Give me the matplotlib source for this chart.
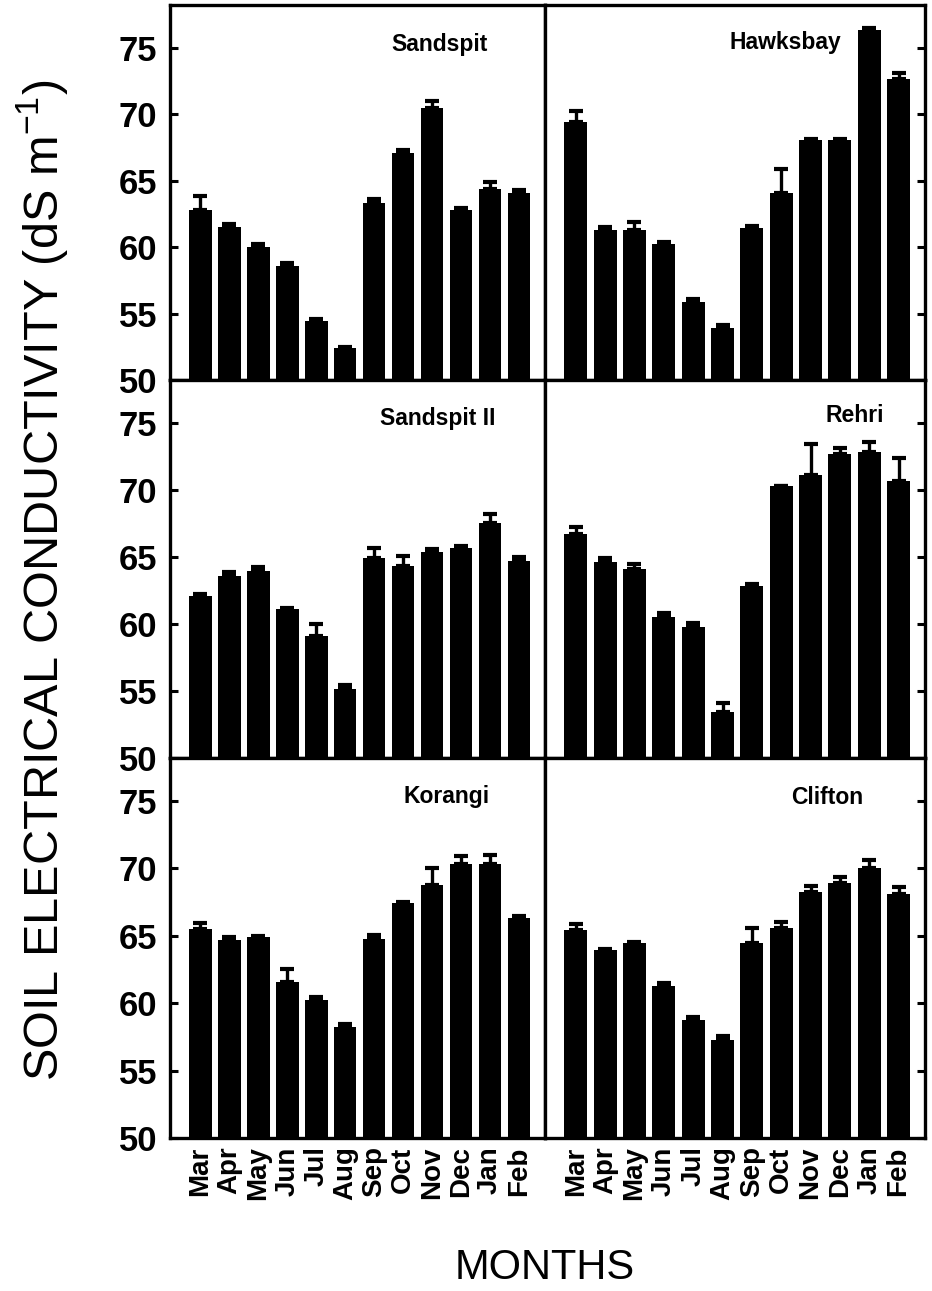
import matplotlib
matplotlib.use('Agg')
from matplotlib import pyplot as plt
import numpy as np

plt.rcParams['font.family'] = ['Liberation Sans', 'DejaVu Sans']
plt.rcParams['mathtext.fontset'] = 'custom'
plt.rcParams['mathtext.rm'] = 'Liberation Sans'

#### D A T A ####

months = ['Mar', 'Apr', 'May', 'Jun', 'Jul', 'Aug', 'Sep', 'Oct', 'Nov', 'Dec', 'Jan', 'Feb']
sites = ['Sandspit', 'Hawksbay', 'Sandspit II', 'Rehri', 'Korangi', 'Clifton']

sandspit = [62.75, 61.5, 60.0, 58.6, 54.4, 52.4, 63.3, 67.1, 70.45, 62.8, 64.4, 64.1]
sandspit_err = [1.1, 0.2, 0.2, 0.2, 0.2, 0.1, 0.3, 0.2, 0.5, 0.1, 0.5, 0.2]

hawksbay = [69.4, 61.3, 61.3, 60.2, 55.9, 53.9, 61.4, 64.1, 68.05, 68.05, 76.3, 72.6]
hawksbay_err = [0.8, 0.2, 0.6, 0.2, 0.2, 0.2, 0.2, 1.8, 0.1, 0.1, 0.2, 0.5]

sandspit2 = [62.05, 63.6, 63.95, 61.1, 59.1, 55.15, 64.9, 64.3, 65.4, 65.7, 67.5, 64.7]
sandspit2_err = [0.2, 0.3, 0.3, 0.1, 0.9, 0.3, 0.8, 0.8, 0.2, 0.1, 0.7, 0.3]

rehri = [66.7, 64.6, 64.1, 60.55, 59.8, 53.4, 62.8, 70.3, 71.1, 72.7, 72.8, 70.7]
rehri_err = [0.5, 0.3, 0.4, 0.3, 0.3, 0.7, 0.2, 0.0, 2.3, 0.4, 0.8, 1.7]

korangi = [65.5, 64.7, 64.9, 61.55, 60.25, 58.25, 64.8, 67.45, 68.75, 70.3, 70.35, 66.3]
korangi_err = [0.45, 0.2, 0.1, 1.0, 0.2, 0.2, 0.3, 0.1, 1.3, 0.6, 0.65, 0.2]

clifton = [65.45, 63.95, 64.45, 61.3, 58.75, 57.3, 64.45, 65.6, 68.25, 68.95, 70.0, 68.1]
clifton_err = [0.45, 0.1, 0.1, 0.2, 0.2, 0.3, 1.1, 0.4, 0.45, 0.45, 0.6, 0.5]

values = [sandspit, hawksbay, sandspit2, rehri, korangi, clifton]
errors = [sandspit_err, hawksbay_err, sandspit2_err, rehri_err, korangi_err, clifton_err]
y_ticks = [50, 55, 60, 65, 70, 75]

#### L A Y O U T ####

W, H = 932, 1291
fig = plt.figure(figsize=(W / 100, H / 100), dpi=100)

col_x = [170, 545, 925]
row_y = [5, 380, 758, 1138]
label_pos = [(440, 45), (785, 42), (438, 418), (855, 416), (447, 796), (827, 797)]

x = np.arange(len(months))

for i, site in enumerate(sites):
    r, c = divmod(i, 2)
    left = col_x[c] / W
    width = (col_x[c + 1] - col_x[c]) / W
    bottom = 1 - row_y[r + 1] / H
    height = (row_y[r + 1] - row_y[r]) / H
    ax = fig.add_axes([left, bottom, width, height])

    ax.bar(x, values[i], width=0.78, bottom=0, color='black', zorder=2)
    ax.errorbar(x, values[i], yerr=[np.zeros(len(x)), errors[i]], fmt='none',
                ecolor='black', elinewidth=2.4, capsize=5, capthick=3, zorder=3)

    ax.set_ylim(50, 78.2)
    ax.set_xlim(-1.05, 11.9)
    ax.set_yticks(y_ticks)
    ax.set_xticks(x)

    for s in ax.spines.values():
        s.set_linewidth(2.4)

    ax.tick_params(axis='both', direction='in', length=6, width=2.2,
                   left=(c == 0), right=(c == 1), bottom=(r == 2), top=False)
    if c == 0:
        ax.set_yticklabels([str(t) for t in y_ticks], fontsize=25, fontweight='bold')
        ax.tick_params(axis='y', pad=9)
    else:
        ax.set_yticklabels([])
    if r == 2:
        ax.set_xticklabels(months, rotation=90, fontsize=20, fontweight='bold')
        ax.tick_params(axis='x', pad=6)
    else:
        ax.set_xticklabels([])

    px, py = label_pos[i]
    fig.text(px / W, 1 - py / H, site, fontsize=16.5, fontweight='bold',
             ha='center', va='center')

fig.text(42 / W, 1 - 580 / H, 'SOIL ELECTRICAL CONDUCTIVITY (dS m$^{\\mathregular{-1}}$)',
         rotation=90, fontsize=35, ha='center', va='center')
fig.text(545 / W, 1 - 1268 / H, 'MONTHS', fontsize=30, ha='center', va='center')

plt.savefig('out.png', dpi=100)
